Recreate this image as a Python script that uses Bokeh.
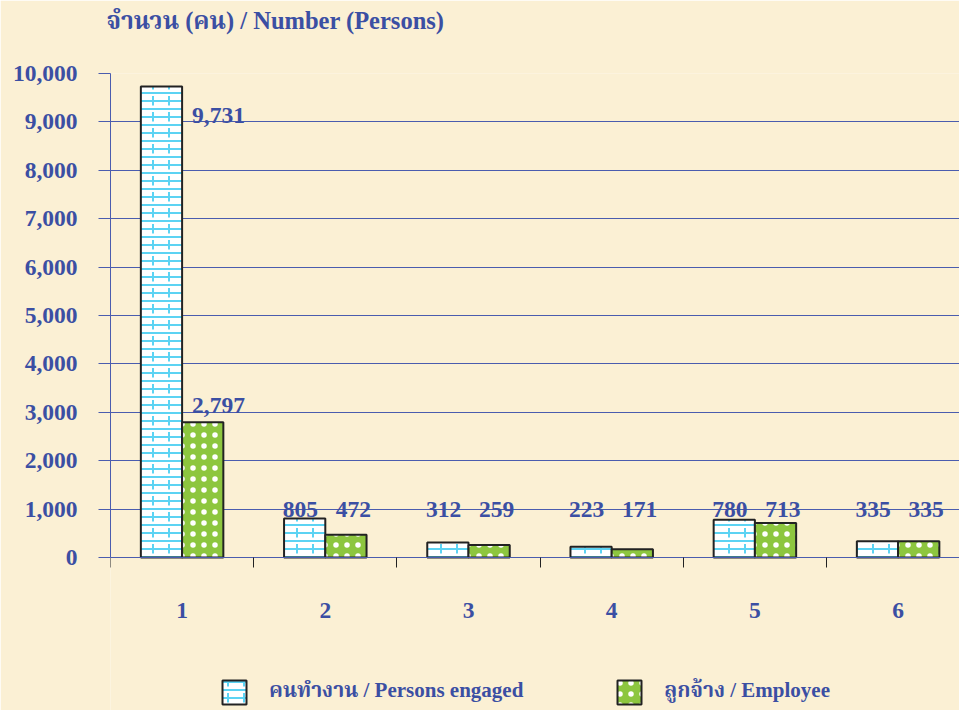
import numpy as np
from bokeh.plotting import figure
from bokeh.models import (Range1d, FixedTicker, NumeralTickFormatter, Legend, LegendItem,
                          ColumnDataSource, Title)
from bokeh.core.properties import value
from bokeh.embed import file_html
from bokeh.resources import INLINE

# ---- data ----
categories = ["1", "2", "3", "4", "5", "6"]
persons_engaged = [9731, 805, 312, 223, 780, 335]
employee = [2797, 472, 259, 171, 713, 335]
y_ticks = [0, 1000, 2000, 3000, 4000, 5000, 6000, 7000, 8000, 9000, 10000]
title_text = "จำนวน (คน) / Number  (Persons)"
label_persons = "คนทำงาน / Persons engaged"
label_employee = "ลูกจ้าง / Employee"

BLUE = "#3B4FA3"
GRID = "#4A5CAE"
BG = "#FBF0D4"
FONT = "Liberation Serif, Times New Roman, Noto Serif Thai, Noto Sans Thai, serif"

x = np.arange(1, len(categories) + 1, dtype=float)
bw = 0.288
W, H = 959, 710
LEFT, TOP, ZERO = 110, 73, 557
CAT_PX = 143.2
YMAX = 10000.0
YMIN = -YMAX * (H - ZERO) / (ZERO - TOP)

p = figure(width=W, height=H,
           x_range=Range1d(0.5, 0.5 + (W - LEFT) / CAT_PX), y_range=Range1d(YMIN, YMAX),
           output_backend="svg", toolbar_location=None,
           min_border_left=LEFT, min_border_right=0, min_border_top=TOP,
           min_border_bottom=0)
p.background_fill_color = BG
p.border_fill_color = BG
p.outline_line_color = None

# real title (outermost) + spacer title between it and the frame
p.title.text = title_text
p.title.text_font = FONT
p.title.text_font_size = "24.5px"
p.title.text_font_style = "bold"
p.title.text_color = BLUE
p.title.align = "left"
p.title.offset = -4
p.title.standoff = 0
spacer = Title(text=" ", text_font_size="10px", standoff=27)
p.add_layout(spacer, "above")

# bars
src = ColumnDataSource(dict(xb=x - bw / 2, xg=x + bw / 2, pe=persons_engaged, em=employee))
rb1 = p.vbar(x="xb", top="pe", width=bw, bottom=0, source=src,
             fill_color="white", line_color=None,
             hatch_pattern="horizontal_line", hatch_color="#5CD3F3", hatch_scale=8, hatch_weight=2)
rb2 = p.vbar(x="xb", top="pe", width=bw, bottom=0, source=src,
             fill_alpha=0, line_color="#222222", line_width=2,
             hatch_pattern="vertical_dash", hatch_color="#5CD3F3", hatch_scale=16, hatch_weight=2)
rg1 = p.vbar(x="xg", top="em", width=bw, bottom=0, source=src,
             fill_color="#8DC63F", line_color="#222222", line_width=2,
             hatch_pattern="dot", hatch_color="white", hatch_scale=11, hatch_weight=5)

# value labels
vals_b = np.array(persons_engaged, dtype=float)
vals_g = np.array(employee, dtype=float)
tall = vals_b > 2000
lvl = 1000.0
lab = dict(text_font=value(FONT), text_font_size="23.5px", text_font_style="bold",
           text_color=BLUE, text_baseline="alphabetic")
p.text(x=x[tall], y=vals_b[tall], text=[f"{int(v):,}" for v in vals_b[tall]],
       x_offset=10, y_offset=29, text_align="left", **lab)
p.text(x=x[tall], y=vals_g[tall], text=[f"{int(v):,}" for v in vals_g[tall]],
       x_offset=10, y_offset=-17, text_align="left", **lab)
short = ~tall
p.text(x=x[short], y=np.full(short.sum(), lvl), text=[f"{int(v):,}" for v in vals_b[short]],
       x_offset=-25, y_offset=0, text_align="center", **lab)
p.text(x=x[short], y=np.full(short.sum(), lvl), text=[f"{int(v):,}" for v in vals_g[short]],
       x_offset=28, y_offset=0, text_align="center", **lab)

# axes
p.xgrid.grid_line_color = None
p.ygrid.grid_line_color = GRID
p.ygrid.grid_line_width = 1
p.ygrid.ticker = FixedTicker(ticks=y_ticks)

ya = p.yaxis[0]
ya.ticker = FixedTicker(ticks=y_ticks)
ya.bounds = (0, YMAX)
ya.formatter = NumeralTickFormatter(format="0,0")
ya.axis_line_color = GRID
ya.major_tick_line_color = GRID
ya.major_tick_out = 12
ya.major_tick_in = 0
ya.minor_tick_line_color = None
ya.major_label_standoff = 21
ya.major_label_text_font = FONT
ya.major_label_text_font_size = "23.5px"
ya.major_label_text_font_style = "bold"
ya.major_label_text_color = BLUE

xa = p.xaxis[0]
xa.fixed_location = 0
xa.ticker = FixedTicker(ticks=list(x), minor_ticks=list(np.arange(0.5, len(categories) + 1, 1.0)))
xa.major_label_overrides = {float(xi): c for xi, c in zip(x, categories)}
xa.axis_line_color = GRID
xa.major_tick_line_color = None
xa.major_tick_out = 0
xa.minor_tick_line_color = "#222222"
xa.minor_tick_out = 10
xa.minor_tick_in = 0
xa.major_label_standoff = 35
xa.major_label_text_font = FONT
xa.major_label_text_font_size = "23.5px"
xa.major_label_text_font_style = "bold"
xa.major_label_text_color = BLUE

# legend
legend = Legend(items=[LegendItem(label=label_persons, renderers=[rb1, rb2]),
                       LegendItem(label=label_employee, renderers=[rg1])],
                orientation="horizontal", location=(109, 2),
                glyph_width=30, glyph_height=30, label_standoff=20, spacing=91,
                padding=0, margin=0, border_line_color=None, background_fill_alpha=0,
                label_text_font=FONT, label_text_font_size="21px",
                label_text_font_style="bold", label_text_color=BLUE)
p.add_layout(legend, "center")

open("out.html", "w").write(file_html(p, INLINE))
